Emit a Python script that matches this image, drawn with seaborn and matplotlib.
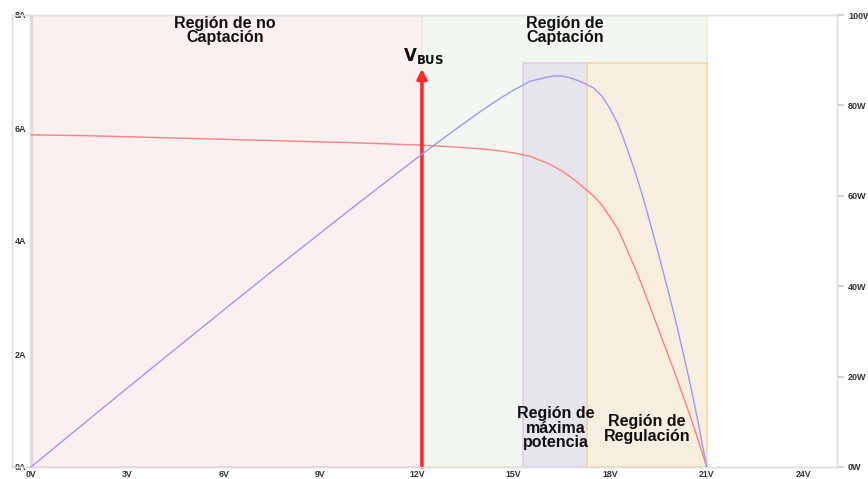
import matplotlib
matplotlib.use("Agg")
import matplotlib.pyplot as plt
import seaborn as sns
import pandas as pd
from matplotlib.patches import Rectangle

# ============ Data ============
voltage = [0, 2, 4, 6, 8, 10, 12, 13, 14, 14.5, 15, 15.5, 16, 16.25, 16.5,
           16.75, 17, 17.25, 17.5, 17.75, 18, 18.25, 18.5, 18.75, 19, 19.25,
           19.5, 19.75, 20, 20.25, 20.5, 20.75, 21]
current = [5.88, 5.86, 5.83, 5.80, 5.77, 5.74, 5.70, 5.67, 5.63, 5.60, 5.56,
           5.50, 5.39, 5.32, 5.24, 5.14, 5.03, 4.91, 4.79, 4.63, 4.42, 4.20,
           3.88, 3.55, 3.20, 2.82, 2.44, 2.06, 1.68, 1.28, 0.88, 0.45, 0.0]
power = [0, 11.7, 23.3, 34.8, 46.2, 57.4, 68.4, 73.7, 78.8, 81.2, 83.4,
         85.3, 86.2, 86.5, 86.5, 86.1, 85.5, 84.7, 83.8, 82.0, 79.2, 75.8,
         71.0, 65.8, 60.2, 53.8, 47.2, 40.4, 33.4, 25.8, 18.0, 9.3, 0.0]

x_ticks = [0, 3, 6, 9, 12, 15, 18, 21, 24]
a_ticks = [0, 2, 4, 6, 8]
w_ticks = [0, 20, 40, 60, 80, 100]

# regions: label, start V, end V, top (A)
region_labels = ["Región de no\nCaptación", "Región de\nCaptación",
                 "Región de\nmáxima\npotencia", "Región de\nRegulación"]
region_start = [0, 12.15, 15.3, 17.28]
region_end = [12.15, 21.0, 17.28, 21.0]
region_top = [8.0, 8.0, 7.15, 7.15]
v_bus = 12.15
v_bus_top = 7.05

df = pd.DataFrame({"V": voltage, "I": current, "P": power})

# ============ Plot ============
sns.set_theme(style="white")
plt.rcParams["font.family"] = ["Liberation Sans", "DejaVu Sans"]

fig = plt.figure(figsize=(8.68, 4.79), dpi=100)
ax = fig.add_axes([12 / 868, 12 / 479, (837 - 12) / 868, (467 - 15) / 479])
ax.set_axisbelow(False)

fills = ["#fcefef", "#f2f8f1", "#e8e4eb", "#f8eedf"]
edges = ["#e6d4d4", "#e9efd9", "#d9d1dd", "#f0d9a2"]
for i in range(len(region_labels)):
    ax.add_patch(Rectangle((region_start[i], 0), region_end[i] - region_start[i],
                           region_top[i], facecolor=fills[i], edgecolor=edges[i],
                           lw=1.2, zorder=1))
# thicker left border of the first region
ax.axvline(region_start[0], color="#e8d8d8", lw=2.5, zorder=1.5)

sns.lineplot(data=df, x="V", y="I", ax=ax, color="#ff8080", lw=1.0, zorder=3)

label_pos = [(6.03, 7.73), (16.6, 7.73), (16.3, 0.69), (19.15, 0.67)]
for lab, (px, py) in zip(region_labels, label_pos):
    ax.text(px, py, lab, ha="center", va="center", fontsize=11.5,
            fontweight="bold", linespacing=0.95, color="#111111", zorder=6)

ax.annotate("", xy=(v_bus, v_bus_top), xytext=(v_bus, 0),
            arrowprops=dict(arrowstyle="-|>", color="#ff2a2a", lw=2.6,
                            mutation_scale=14, shrinkA=0, shrinkB=0), zorder=5)
ax.text(v_bus + 0.05, 7.27, r"$\mathbf{V_{BUS}}$", ha="center", va="center",
        fontsize=12, color="#111111", zorder=6)

ax.set_xlim(-0.59, 25.05)
ax.set_ylim(0, 8)
ax.set_xticks(x_ticks)
ax.set_xticklabels([f"{t}V" for t in x_ticks])
ax.set_yticks(a_ticks)
ax.set_yticklabels([f"{t}A" for t in a_ticks])
ax.set_xlabel("")
ax.set_ylabel("")
ax.tick_params(axis="x", length=2, color="#cccccc", pad=0.5, labelsize=6.3,
               labelcolor="#333333")
ax.tick_params(axis="y", length=0, pad=-10, labelsize=6.5, labelcolor="#333333")
for lbl in ax.get_xticklabels() + ax.get_yticklabels():
    lbl.set_fontweight("bold")

ax2 = ax.twinx()
sns.lineplot(data=df, x="V", y="P", ax=ax2, color="#9a9af6", lw=1.0, zorder=3)
ax2.set_ylim(0, 100)
ax2.set_yticks(w_ticks)
ax2.set_yticklabels([f"{t}W" for t in w_ticks])
ax2.set_ylabel("")
ax2.tick_params(axis="y", length=5, color="#cccccc", pad=3, labelsize=6.5,
                labelcolor="#333333")
for lbl in ax2.get_yticklabels():
    lbl.set_fontweight("bold")

for a in (ax, ax2):
    for s in a.spines.values():
        s.set_color("#dddddd")
        s.set_linewidth(1.0)

fig.savefig("out.png", dpi=100)
